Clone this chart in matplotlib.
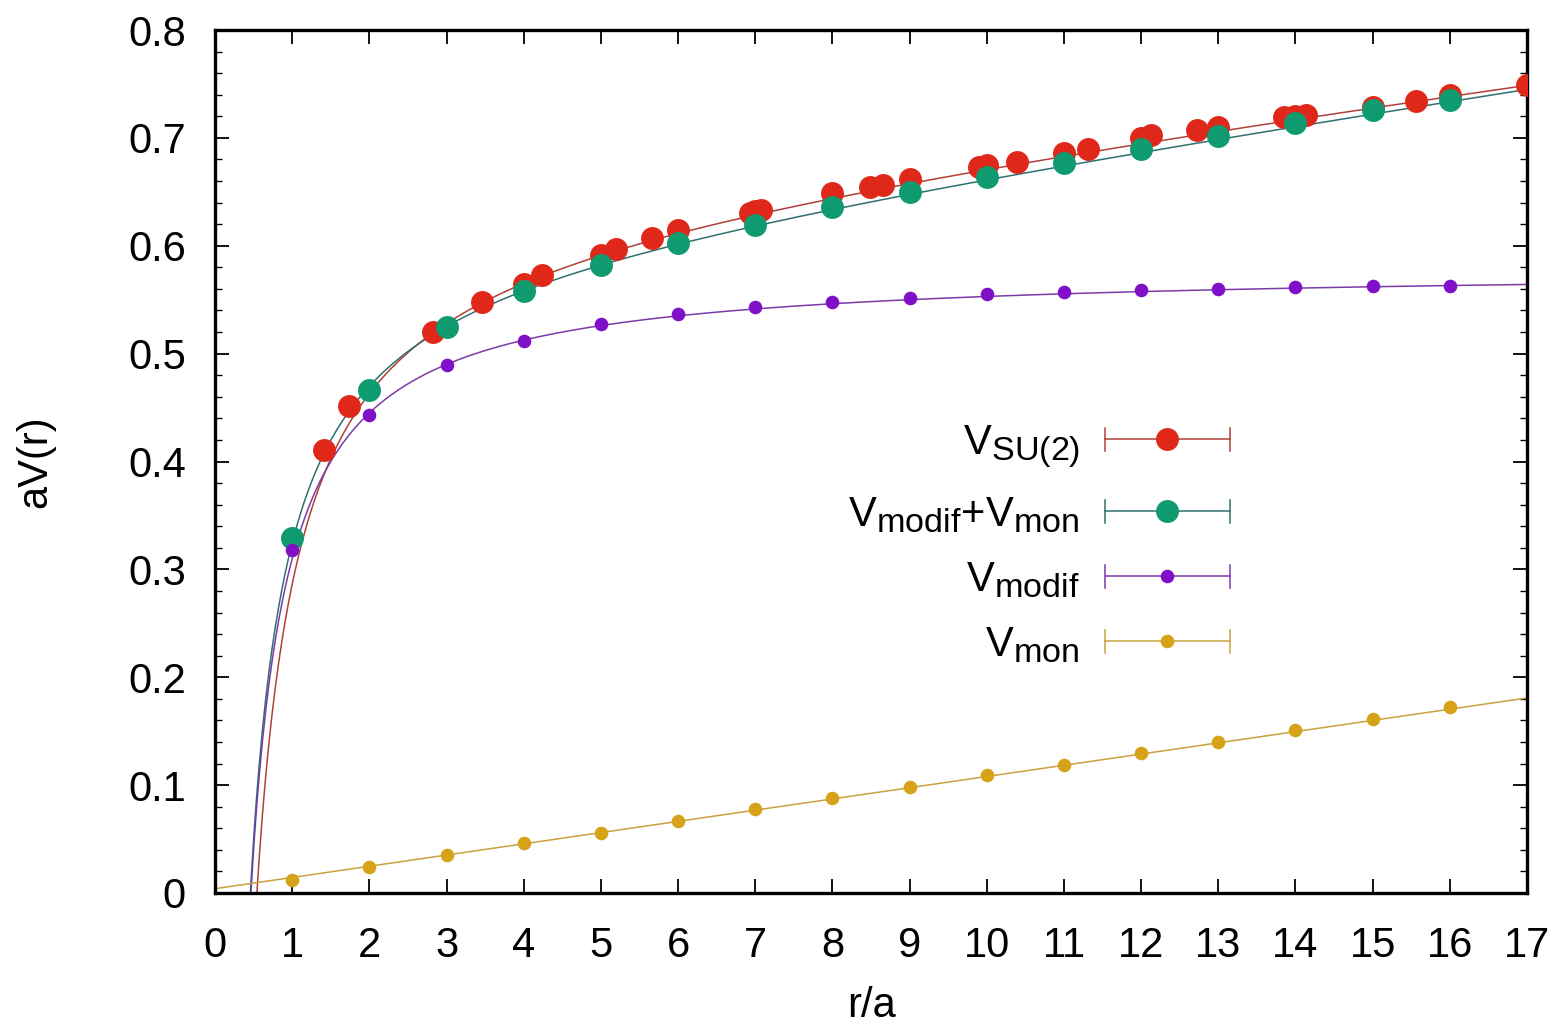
import numpy as np
import matplotlib
matplotlib.use("Agg")
import matplotlib.pyplot as plt
import matplotlib._mathtext as _mt
from matplotlib.lines import Line2D
from matplotlib.legend_handler import HandlerBase
from matplotlib.ticker import MultipleLocator

# ---------------- data ----------------
r_su2 = [1.414, 1.732, 2.828, 3.464, 4, 4.243, 5, 5.196, 5.657, 6, 6.928, 7, 7.071,
         8, 8.485, 8.660, 9, 9.899, 10, 10.392, 11, 11.314, 12, 12.124, 12.728, 13,
         13.856, 14, 14.142, 15, 15.556, 16, 17]
v_su2 = [0.411, 0.451, 0.520, 0.548, 0.565, 0.573, 0.591, 0.597, 0.607, 0.615, 0.630, 0.632, 0.633,
         0.649, 0.654, 0.656, 0.662, 0.673, 0.675, 0.678, 0.686, 0.690, 0.700, 0.703, 0.707, 0.710,
         0.719, 0.720, 0.721, 0.729, 0.734, 0.740, 0.749]

r_int = [1, 2, 3, 4, 5, 6, 7, 8, 9, 10, 11, 12, 13, 14, 15, 16]
v_sum = [0.329, 0.466, 0.525, 0.558, 0.582, 0.603, 0.619, 0.636, 0.650, 0.664, 0.677, 0.690,
         0.702, 0.714, 0.726, 0.735]
v_modif = [0.318, 0.443, 0.489, 0.512, 0.527, 0.537, 0.543, 0.548, 0.552, 0.555, 0.557, 0.559,
           0.560, 0.562, 0.563, 0.563]
v_mon = [0.012, 0.024, 0.035, 0.046, 0.056, 0.067, 0.078, 0.088, 0.098, 0.109, 0.119, 0.130,
         0.140, 0.151, 0.161, 0.172]

# fit parameters: V(r) = V0 - alpha/r + sigma*r
fit_su2 = [0.612, 0.335, 0.0092]
fit_sum = [0.584, 0.270, 0.0104]
fit_modif = [0.580, 0.270, 0.0]
fit_mon = [0.004, 0.0, 0.0104]

labels = [r'$\mathregular{V_{SU(2)}}$', r'$\mathregular{V_{modif}{+}V_{mon}}$',
          r'$\mathregular{V_{modif}}$', r'$\mathregular{V_{mon}}$']
xticks = list(range(0, 18))
yticks = [0, 0.1, 0.2, 0.3, 0.4, 0.5, 0.6, 0.7, 0.8]

# ---------------- style ----------------
plt.rcParams['font.family'] = ['Liberation Sans', 'DejaVu Sans']
plt.rcParams['mathtext.default'] = 'regular'
plt.rcParams['mathtext.fontset'] = 'custom'
plt.rcParams['mathtext.rm'] = 'Liberation Sans'
try:
    _mt.SHRINK_FACTOR = 0.82   # larger subscripts, as in the reference
except Exception:
    pass

c_red = '#e0281a'
c_green = '#0f9a70'
c_purple = '#8010c8'
c_yellow = '#d6a218'
l_red = '#b04038'
l_green = '#2f7070'
l_purple = '#7a3aa8'
l_yellow = '#c8a040'

fig = plt.figure(figsize=(15.66, 10.30), dpi=100)
ax = fig.add_axes([215/1566, 1 - 893/1030, (1527-215)/1566, (893-30)/1030])


def V(r, p):
    return p[0] - p[1]/r + p[2]*r

rr = np.linspace(0.3, 17, 800)
rr0 = np.linspace(0.0, 17, 200)
ax.plot(rr, V(rr, fit_su2), color=l_red, lw=1.1, zorder=2)
ax.plot(rr, V(rr, fit_sum), color=l_green, lw=1.1, zorder=2)
ax.plot(rr, V(rr, fit_modif), color=l_purple, lw=1.1, zorder=2)
ax.plot(rr0, fit_mon[0] + fit_mon[2]*rr0, color=l_yellow, lw=1.1, zorder=2)

MS_BIG, MS_SMALL = 16.5, 9.8
ax.plot(r_su2, v_su2, 'o', color=c_red, ms=MS_BIG, mew=0, zorder=3)
ax.plot(r_int, v_sum, 'o', color=c_green, ms=MS_BIG, mew=0, zorder=4)
ax.plot(r_int, v_modif, 'o', color=c_purple, ms=MS_SMALL, mew=0, zorder=5)
ax.plot(r_int, v_mon, 'o', color=c_yellow, ms=MS_SMALL, mew=0, zorder=5)


class HandlerErr(HandlerBase):
    def __init__(self, lcolor, mcolor, ms):
        super().__init__()
        self.lcolor, self.mcolor, self.ms = lcolor, mcolor, ms

    def create_artists(self, legend, orig_handle, xdescent, ydescent, width, height, fontsize, trans):
        y = height / 2 - ydescent
        x0, x1 = -xdescent, -xdescent + width
        cap = 0.28 * fontsize
        arts = [Line2D([x0, x1], [y, y], color=self.lcolor, lw=1.1),
                Line2D([x0, x0], [y - cap, y + cap], color=self.lcolor, lw=1.1),
                Line2D([x1, x1], [y - cap, y + cap], color=self.lcolor, lw=1.1),
                Line2D([(x0 + x1) / 2], [y], marker='o', ls='none', color=self.mcolor,
                       ms=self.ms, mew=0)]
        for a in arts:
            a.set_transform(trans)
        return arts


hs = [Line2D([], []) for _ in range(4)]
hmap = {hs[0]: HandlerErr(l_red, c_red, MS_BIG),
        hs[1]: HandlerErr(l_green, c_green, MS_BIG),
        hs[2]: HandlerErr(l_purple, c_purple, MS_SMALL),
        hs[3]: HandlerErr(l_yellow, c_yellow, MS_SMALL)}
leg = ax.legend(hs, labels, handler_map=hmap, loc='center right',
                bbox_to_anchor=((1230 - 215 + 29) / (1527 - 215), 1 - (544 - 30) / (893 - 30)),
                frameon=False, markerfirst=False, fontsize=30, handlelength=3.0,
                handletextpad=0.6, labelspacing=0.6, borderpad=0.2)

ax.set_xlim(0, 17)
ax.set_ylim(0, 0.8)
ax.set_xticks(xticks)
ax.set_yticks(yticks)
ax.set_xticklabels([str(t) for t in xticks])
ax.set_yticklabels(['0'] + ['%.1f' % t for t in yticks[1:]])
ax.yaxis.set_minor_locator(MultipleLocator(0.02))
ax.tick_params(axis='both', which='major', direction='in', top=True, right=True,
               length=10, width=1.3, labelsize=30)
ax.tick_params(axis='x', which='major', pad=24)
ax.tick_params(axis='y', which='major', pad=21)
ax.tick_params(axis='y', which='minor', direction='in', right=True, length=5, width=1.0)
for s in ax.spines.values():
    s.set_linewidth(2.4)

ax.set_xlabel('r/a', fontsize=30, labelpad=14)
ax.set_ylabel('aV(r)', fontsize=30, labelpad=52)

fig.savefig('out.png', dpi=100)
